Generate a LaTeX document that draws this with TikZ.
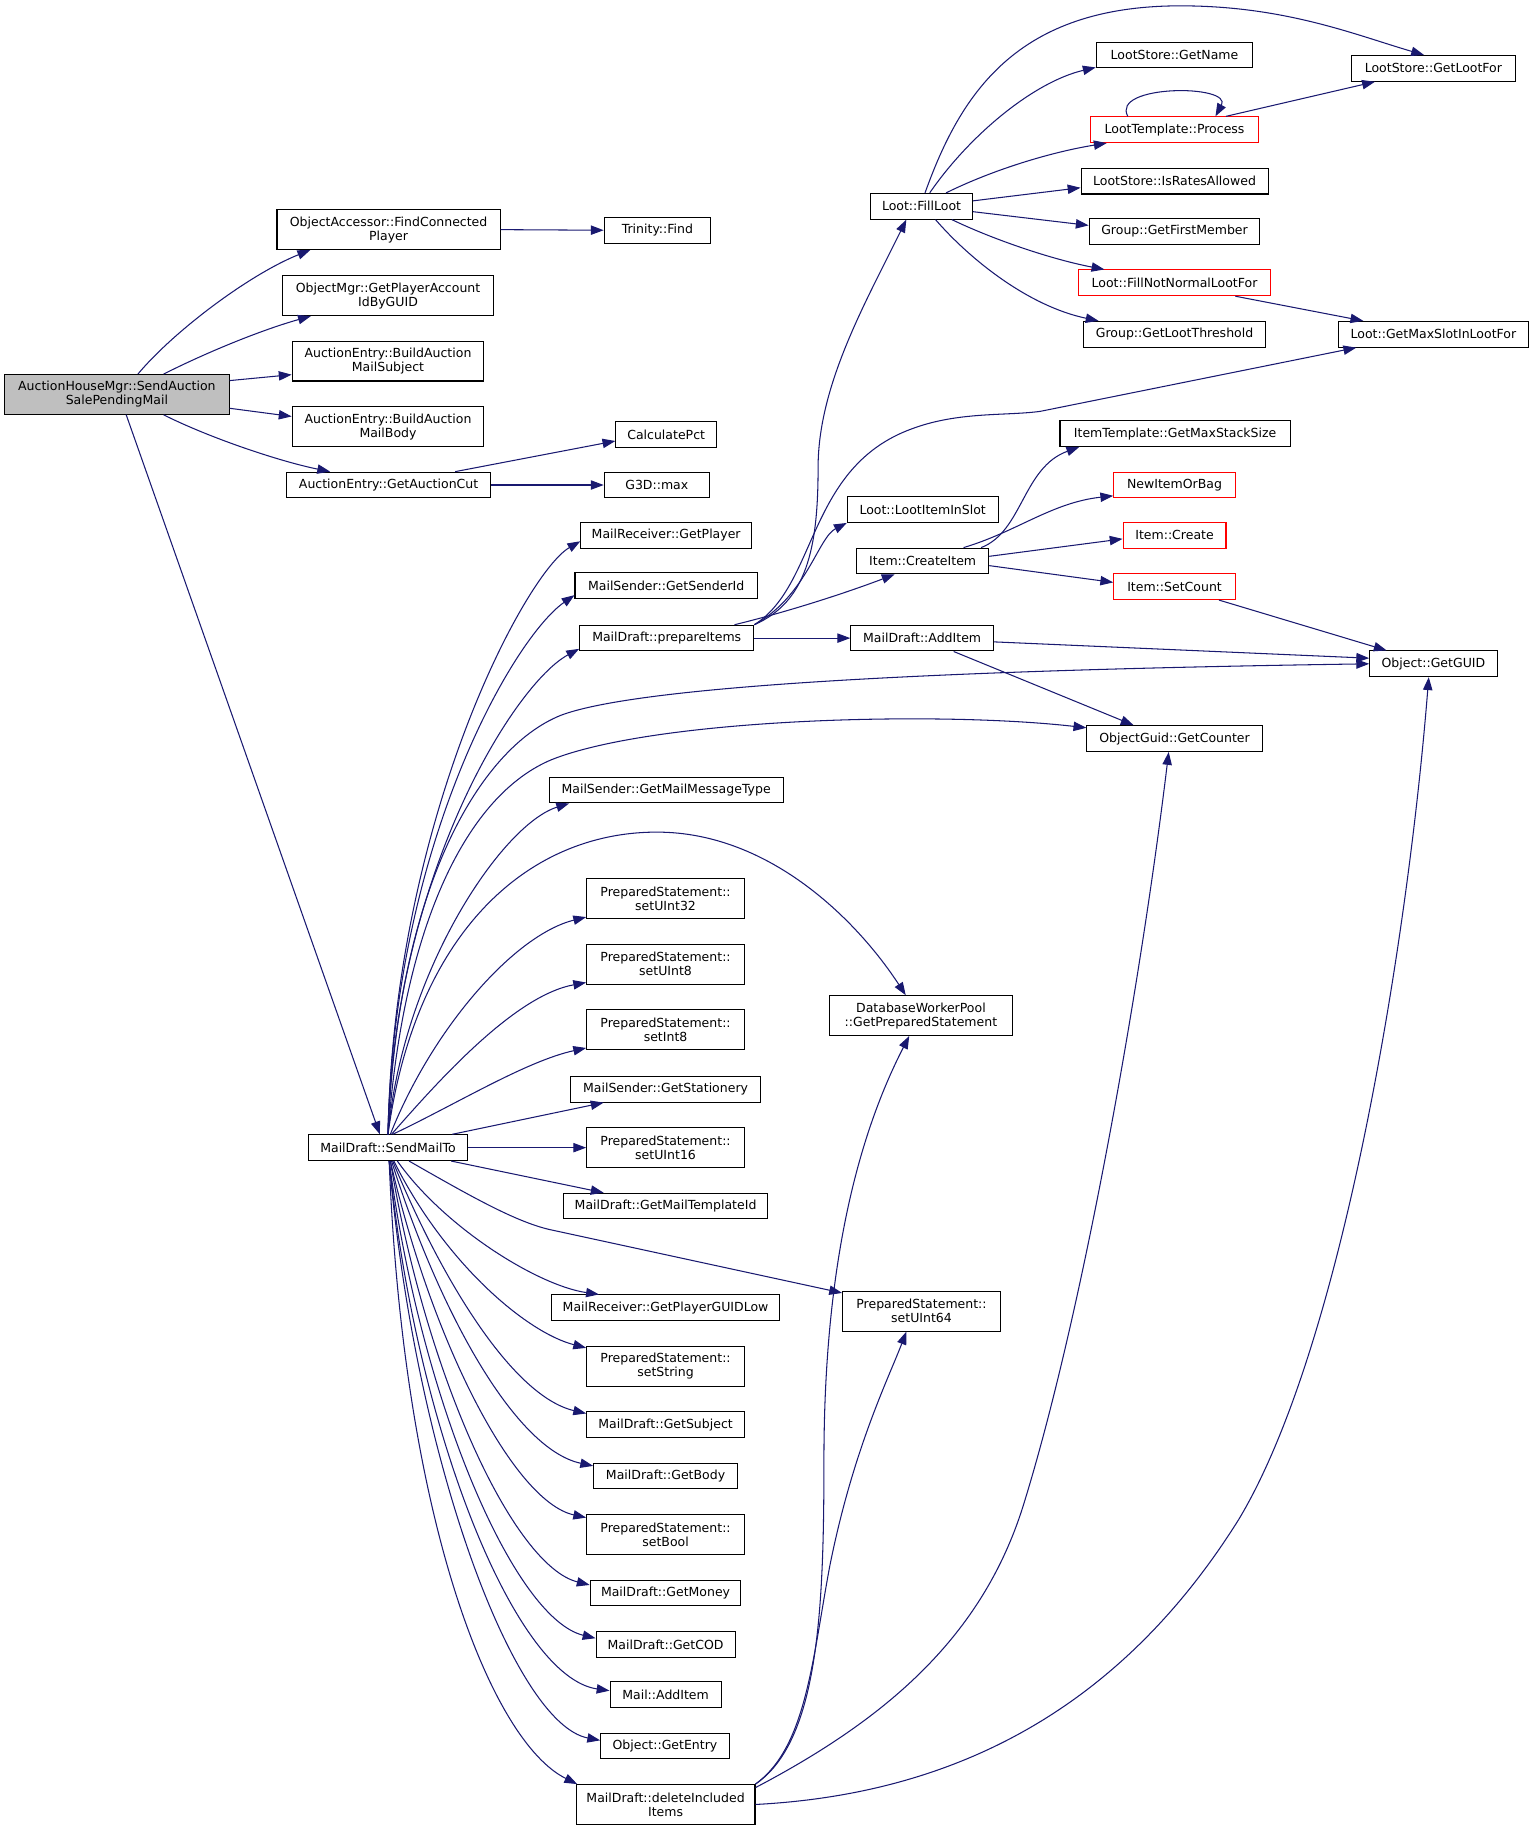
\documentclass[tikz,border=0pt]{standalone}
\usepackage{fontspec}
\setmainfont{DejaVu Sans}
\usepackage{xcolor}
\usetikzlibrary{arrows.meta}
\definecolor{edgeblue}{RGB}{25,25,112}
\definecolor{rootgray}{RGB}{191,191,191}
\tikzset{
fnbox/.style={rectangle, draw=black!100,fill=white,line width=0.9pt, inner sep=0pt, minimum height=22pt, align=center, font=\fontsize{10.7pt}{12pt}\selectfont},
fnboxtwo/.style={fnbox, minimum height=34pt},
fnboxred/.style={fnbox, draw=red!100},
fnboxroot/.style={fnboxtwo, fill=rootgray},
calledge/.style={draw=edgeblue, line width=0.9pt, -{Triangle[length=11pt,width=8pt]}},
}
\begin{document}
\begin{tikzpicture}[x=1pt,y=-1pt]
\useasboundingbox (0,0) rectangle (1310,1565);
\node[fnboxroot, minimum width=192pt] at (100,337.5) (auction) {AuctionHouseMgr::SendAuction\\SalePendingMail};
\node[fnboxtwo, minimum width=191pt] at (332.5,196.5) (findconn) {ObjectAccessor::FindConnected\\Player};
\node[fnbox, minimum width=91pt] at (562.5,197) (trfind) {Trinity::Find};
\node[fnboxtwo, minimum width=180pt] at (332,253) (accountid) {ObjectMgr::GetPlayerAccount\\IdByGUID};
\node[fnboxtwo, minimum width=164pt] at (332,309) (mailsubj) {AuctionEntry::BuildAuction\\MailSubject};
\node[fnboxtwo, minimum width=164pt] at (332,365) (mailbody) {AuctionEntry::BuildAuction\\MailBody};
\node[fnbox, minimum width=175pt] at (332.5,415) (auctioncut) {AuctionEntry::GetAuctionCut};
\node[fnbox, minimum width=86pt] at (570,372) (calcpct) {CalculatePct};
\node[fnbox, minimum width=90pt] at (562,415) (g3dmax) {G3D::max};
\node[fnbox, minimum width=87pt] at (788.5,176.5) (fillloot) {Loot::FillLoot};
\node[fnbox, minimum width=134pt] at (1005,47) (getname) {LootStore::GetName};
\node[fnbox, minimum width=141pt] at (1226.5,58.5) (getlootfor) {LootStore::GetLootFor};
\node[fnboxred, minimum width=144pt] at (1005,111) (process) {LootTemplate::Process};
\node[fnbox, minimum width=160pt] at (1005,155) (ratesallowed) {LootStore::IsRatesAllowed};
\node[fnbox, minimum width=146pt] at (1005,198) (firstmember) {Group::GetFirstMember};
\node[fnboxred, minimum width=164pt] at (1005,242) (fillnotnormal) {Loot::FillNotNormalLootFor};
\node[fnbox, minimum width=156pt] at (1005,286) (lootthreshold) {Group::GetLootThreshold};
\node[fnbox, minimum width=163pt] at (1226.5,286) (maxslot) {Loot::GetMaxSlotInLootFor};
\node[fnbox, minimum width=197pt] at (1005.5,371) (maxstack) {ItemTemplate::GetMaxStackSize};
\node[fnboxred, minimum width=104pt] at (1005,415) (newitem) {NewItemOrBag};
\node[fnboxred, minimum width=88pt] at (1005,458) (itemcreate) {Item::Create};
\node[fnboxred, minimum width=104pt] at (1005,502) (setcount) {Item::SetCount};
\node[fnbox, minimum width=129pt] at (789.5,436) (lootinslot) {Loot::LootItemInSlot};
\node[fnbox, minimum width=113pt] at (789.5,480) (createitem) {Item::CreateItem};
\node[fnbox, minimum width=122pt] at (789,546) (additem) {MailDraft::AddItem};
\node[fnbox, minimum width=109pt] at (1226.5,568) (getguid) {Object::GetGUID};
\node[fnbox, minimum width=150pt] at (1005,632) (getcounter) {ObjectGuid::GetCounter};
\node[fnbox, minimum width=146pt] at (570,458) (getplayer) {MailReceiver::GetPlayer};
\node[fnbox, minimum width=156pt] at (570,501) (senderid) {MailSender::GetSenderId};
\node[fnbox, minimum width=149pt] at (570.5,546) (prepareitems) {MailDraft::prepareItems};
\node[fnbox, minimum width=200pt] at (570,676) (msgtype) {MailSender::GetMailMessageType};
\node[fnboxtwo, minimum width=135pt] at (569.5,769) (setuint32) {PreparedStatement::\\setUInt32};
\node[fnboxtwo, minimum width=135pt] at (569.5,825) (setuint8) {PreparedStatement::\\setUInt8};
\node[fnboxtwo, minimum width=135pt] at (569.5,881) (setint8) {PreparedStatement::\\setInt8};
\node[fnbox, minimum width=163pt] at (569.5,932) (stationery) {MailSender::GetStationery};
\node[fnboxtwo, minimum width=135pt] at (569.5,982) (setuint16) {PreparedStatement::\\setUInt16};
\node[fnbox, minimum width=175pt] at (569.5,1032) (templateid) {MailDraft::GetMailTemplateId};
\node[fnboxtwo, minimum width=156pt] at (788,869) (getprepstmt) {DatabaseWorkerPool\\::GetPreparedStatement};
\node[fnbox, minimum width=136pt] at (332,982) (sendmailto) {MailDraft::SendMailTo};
\node[fnboxtwo, minimum width=135pt] at (788.5,1122) (setuint64) {PreparedStatement::\\setUInt64};
\node[fnbox, minimum width=195pt] at (569.5,1119) (guidlow) {MailReceiver::GetPlayerGUIDLow};
\node[fnboxtwo, minimum width=135pt] at (569.5,1169) (setstring) {PreparedStatement::\\setString};
\node[fnbox, minimum width=135pt] at (569.5,1219) (getsubject) {MailDraft::GetSubject};
\node[fnbox, minimum width=123pt] at (569.5,1263) (getbody) {MailDraft::GetBody};
\node[fnboxtwo, minimum width=135pt] at (569.5,1313) (setbool) {PreparedStatement::\\setBool};
\node[fnbox, minimum width=129pt] at (569.5,1363) (getmoney) {MailDraft::GetMoney};
\node[fnbox, minimum width=119pt] at (569.5,1407) (getcod) {MailDraft::GetCOD};
\node[fnbox, minimum width=95pt] at (569.5,1450) (mailadditem) {Mail::AddItem};
\node[fnbox, minimum width=110pt] at (569,1494) (getentry) {Object::GetEntry};
\node[fnboxtwo, minimum width=153pt] at (569.5,1544) (deleteitems) {MailDraft::deleteIncluded\\Items};

\draw[calledge] ([xshift=18pt]auction.north) .. controls (150,282) and (215,234) .. ([xshift=-67pt]findconn.south);
\draw[calledge] ([xshift=40pt]auction.north) .. controls (180,300) and (225,282) .. ([xshift=-66pt]accountid.south);
\draw[calledge] (auction.7) -- (mailsubj.188);
\draw[calledge] (auction.-7) -- (mailbody.174);
\draw[calledge] ([xshift=40pt]auction.south) .. controls (180,375) and (240,395) .. ([xshift=-50pt]auctioncut.north);
\draw[calledge] ([xshift=8pt]auction.south) -- ([xshift=-7pt]sendmailto.north);
\draw[calledge] (findconn.east) -- (trfind.west);
\draw[calledge] ([xshift=57pt]auctioncut.north) -- (calcpct.187);
\draw[calledge] (auctioncut.east) -- (g3dmax.west);

\draw[calledge] ([xshift=3pt]fillloot.north) .. controls (822,80) and (870,5) .. (1010,5) .. controls (1100,5) and (1160,30) .. ([xshift=-8pt]getlootfor.north);
\draw[calledge] ([xshift=7pt]fillloot.north) .. controls (830,115) and (885,70) .. (getname.189);
\draw[calledge] ([xshift=21pt]fillloot.north) .. controls (850,145) and (900,130) .. ([xshift=-58pt]process.south);
\draw[calledge] (fillloot.6) -- (ratesallowed.184);
\draw[calledge] (fillloot.-6) -- (firstmember.176);
\draw[calledge] ([xshift=26pt]fillloot.south) .. controls (850,205) and (900,222) .. ([xshift=-60pt]fillnotnormal.north);
\draw[calledge] ([xshift=12pt]fillloot.south) .. controls (830,222) and (880,262) .. ([xshift=-65pt]lootthreshold.north);
\draw[calledge] ([xshift=-40pt]process.north) .. controls (950,72) and (1055,72) .. ([xshift=35pt]process.north);
\draw[calledge] ([xshift=44pt]process.north) -- ([xshift=-50pt]getlootfor.south);
\draw[calledge] ([xshift=52pt]fillnotnormal.south) -- ([xshift=-60pt]maxslot.north);

\draw[calledge] (prepareitems.north east) .. controls (690,515) and (700,470) .. (700,400) .. controls (700,330) and (740,260) .. ([xshift=-13pt]fillloot.south);
\draw[calledge] (prepareitems.north east) .. controls (700,500) and (690,400) .. (780,367) .. controls (820,352) and (860,356) .. (890,352) -- ([xshift=-66pt]maxslot.south);
\draw[calledge] (prepareitems.north east) .. controls (690,510) and (700,460) .. (lootinslot.south west);
\draw[calledge] ([xshift=58pt]prepareitems.north) .. controls (680,522) and (730,505) .. ([xshift=-24pt]createitem.south);
\draw[calledge] (prepareitems.east) -- (additem.west);
\draw[calledge] ([xshift=50pt]createitem.north) .. controls (875,455) and (875,400) .. ([xshift=-82pt]maxstack.south);
\draw[calledge] ([xshift=35pt]createitem.north) .. controls (870,455) and (900,430) .. (newitem.190);
\draw[calledge] (createitem.4) -- (itemcreate.184);
\draw[calledge] (createitem.-4) -- (setcount.176);
\draw[calledge] ([xshift=38pt]setcount.south) -- ([xshift=-40pt]getguid.north);
\draw[calledge] (additem.-3) -- (getguid.175);
\draw[calledge] ([xshift=27pt]additem.south) -- ([xshift=-35pt]getcounter.north);

\draw[calledge] (sendmailto.north) .. controls (337,700) and (450,490) .. (getplayer.184);
\draw[calledge] (sendmailto.north) .. controls (337,721) and (440,545) .. (senderid.186);
\draw[calledge] (sendmailto.north) .. controls (337,750) and (440,585) .. (prepareitems.187);
\draw[calledge] (sendmailto.north) .. controls (340,760) and (410,640) .. (480,612) .. controls (560,582) and (900,572) .. (getguid.west);
\draw[calledge] (sendmailto.north) .. controls (345,790) and (400,680) .. (472,650) .. controls (560,615) and (800,608) .. (getcounter.173);
\draw[calledge] (sendmailto.north) .. controls (345,830) and (430,705) .. ([xshift=-83pt]msgtype.south);
\draw[calledge] (sendmailto.north) .. controls (355,800) and (450,712) .. (562,712) .. controls (660,712) and (735,790) .. ([xshift=-13pt]getprepstmt.north);
\draw[calledge] ([xshift=2pt]sendmailto.north) .. controls (370,880) and (440,800) .. (setuint32.193);
\draw[calledge] ([xshift=3pt]sendmailto.north) .. controls (375,925) and (440,852) .. (setuint8.193);
\draw[calledge] ([xshift=4pt]sendmailto.north) .. controls (390,945) and (450,908) .. (setint8.193);
\draw[calledge] ([xshift=55pt]sendmailto.north) -- ([xshift=-53pt]stationery.south);
\draw[calledge] (sendmailto.east) -- (setuint16.west);
\draw[calledge] ([xshift=54pt]sendmailto.south) -- ([xshift=-53pt]templateid.north);
\draw[calledge] ([xshift=18pt]sendmailto.south) .. controls (400,1022) and (440,1045) .. (470,1052) -- (setuint64.167);
\draw[calledge] ([xshift=8pt]sendmailto.south) .. controls (380,1050) and (460,1100) .. ([xshift=-57pt]guidlow.north);
\draw[calledge] ([xshift=5pt]sendmailto.south) .. controls (380,1080) and (450,1140) .. (setstring.167);
\draw[calledge] ([xshift=4pt]sendmailto.south) .. controls (380,1100) and (440,1195) .. (getsubject.172);
\draw[calledge] ([xshift=3pt]sendmailto.south) .. controls (375,1120) and (440,1240) .. (getbody.172);
\draw[calledge] ([xshift=2pt]sendmailto.south) .. controls (370,1150) and (440,1285) .. (setbool.168);
\draw[calledge] ([xshift=2pt]sendmailto.south) .. controls (365,1180) and (440,1340) .. (getmoney.174);
\draw[calledge] ([xshift=1pt]sendmailto.south) .. controls (360,1200) and (440,1385) .. (getcod.175);
\draw[calledge] ([xshift=1pt]sendmailto.south) .. controls (355,1220) and (440,1435) .. (mailadditem.176);
\draw[calledge] ([xshift=1pt]sendmailto.south) .. controls (355,1250) and (440,1475) .. (getentry.175);
\draw[calledge] ([xshift=1pt]sendmailto.south) .. controls (345,1300) and (420,1490) .. (deleteitems.167);

\draw[calledge] (deleteitems.north east) .. controls (700,1490) and (705,1380) .. (705,1250) .. controls (705,1080) and (735,970) .. ([xshift=-10pt]getprepstmt.south);
\draw[calledge] (deleteitems.north east) .. controls (690,1495) and (695,1420) .. (710,1340) .. controls (730,1240) and (760,1180) .. ([xshift=-13pt]setuint64.south);
\draw[calledge] ([yshift=-3pt]deleteitems.north east) .. controls (760,1470) and (840,1400) .. (875,1290) .. controls (925,1130) and (975,850) .. ([xshift=-5pt]getcounter.south);
\draw[calledge] (deleteitems.east) .. controls (820,1535) and (960,1460) .. (1060,1300) .. controls (1150,1150) and (1205,800) .. ([xshift=-4pt]getguid.south);
\end{tikzpicture}
\end{document}
